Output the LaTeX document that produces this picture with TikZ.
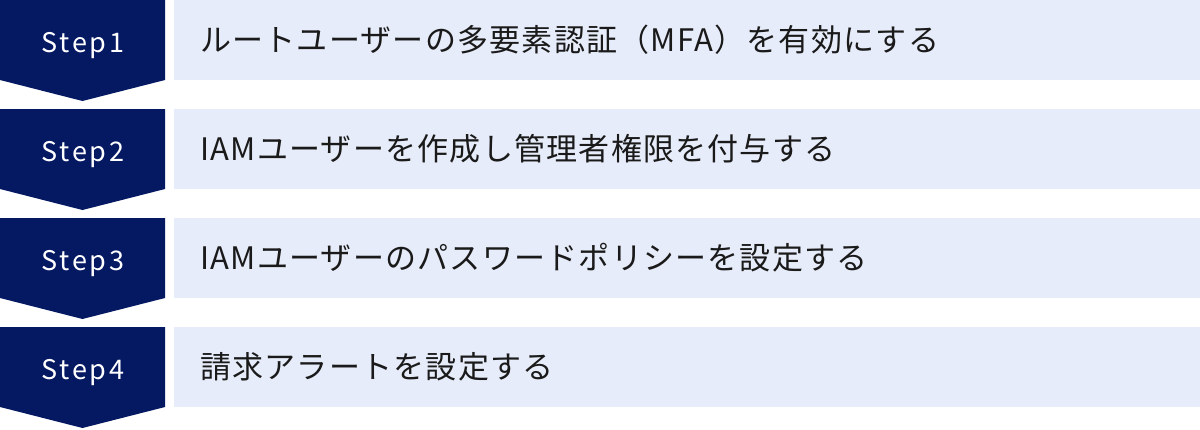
\documentclass[tikz,border=0pt]{standalone}
\usepackage{fontspec}
\newfontfamily\jpfont[LetterSpace=4]{Noto Sans CJK JP}
\newfontfamily\stepfont[LetterSpace=10]{Noto Sans CJK JP}
\definecolor{navy}{RGB}{5,24,98}
\definecolor{lightbox}{RGB}{230,236,249}
\definecolor{txt}{RGB}{26,26,26}
\begin{document}
\begin{tikzpicture}[x=1pt,y=-1pt,
  steparrow/.style={fill=navy,draw=none},
  itembox/.style={fill=lightbox,draw=none},
  steplabel/.style={text=white,font=\stepfont\fontsize{27}{32}\selectfont,anchor=base,inner sep=0pt},
  itemtext/.style={text=txt,font=\jpfont\fontsize{31}{37}\selectfont,anchor=base west,inner sep=0pt}]
\useasboundingbox (0,0) rectangle (1200,429);
\foreach \i/\t [count=\n from 0] in {1/{ルートユーザーの多要素認証（MFA）を有効にする},2/{IAMユーザーを作成し管理者権限を付与する},3/{IAMユーザーのパスワードポリシーを設定する},4/{請求アラートを設定する}}{
  \pgfmathsetmacro{\top}{109*\n}
  \fill[steparrow] (0,\top) -- (165,\top) -- (165,\top+80) -- (82.5,\top+101) -- (0,\top+80) -- cycle;
  \fill[itembox] (174,\top) rectangle (1200,\top+80);
  \node[steplabel] (s\i) at (83,\top+52) {Step\i};
  \node[itemtext] (t\i) at (200,\top+51) {\t};
}
\end{tikzpicture}
\end{document}
